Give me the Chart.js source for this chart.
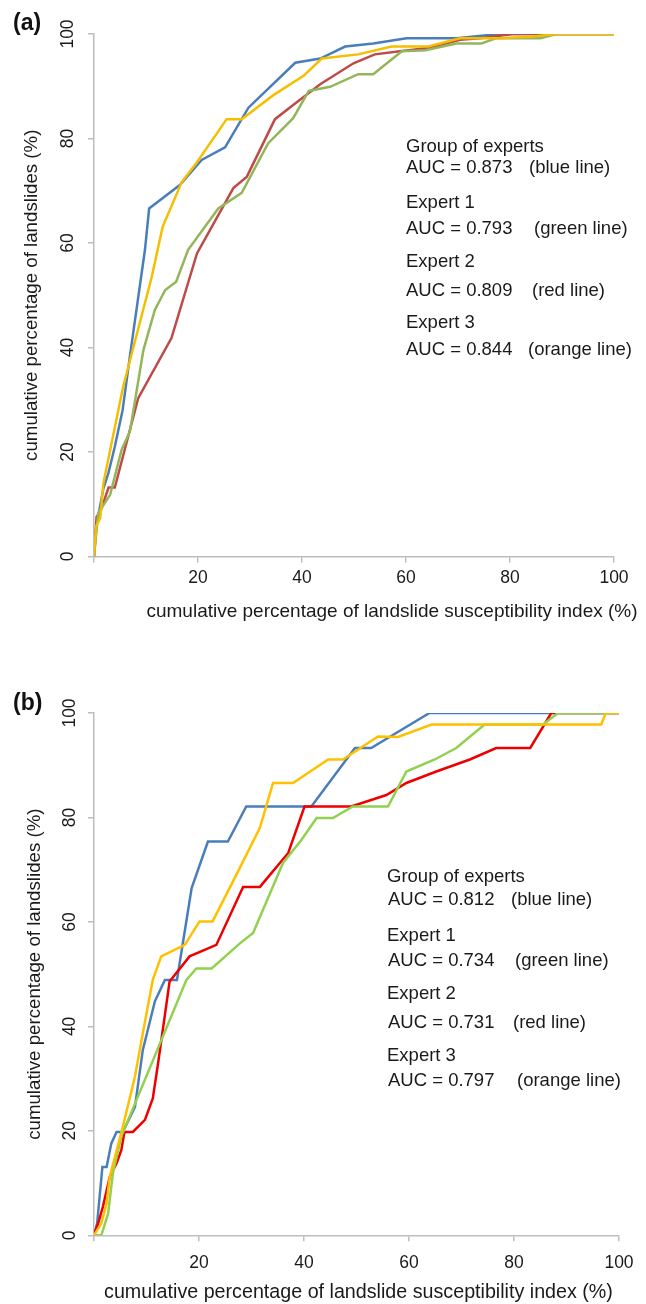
<!DOCTYPE html>
<html>
<head>
<meta charset="utf-8">
<script src="https://cdn.jsdelivr.net/npm/chart.js@4.4.1/dist/chart.umd.min.js"></script>
<style>
  html, body { margin: 0; padding: 0; background: #fff; }
  body { width: 646px; height: 1304px; position: relative; overflow: hidden; font-family: "Liberation Sans", Arial, sans-serif; }
  canvas { position: absolute; left: 0; }
  #rocA { top: 0; }
  #rocB { top: 650px; }
  .tag { position: absolute; left: 13px; font-weight: bold; font-size: 23px; color: #111; line-height: 28px; }
</style>
</head>
<body>
<canvas id="rocA" width="646" height="650"></canvas>
<canvas id="rocB" width="646" height="654"></canvas>
<div class="tag" style="top:8px">(a)</div>
<div class="tag" style="top:688px">(b)</div>
<script>
// tick labels (both axes, both panels)
const tickValues = [0, 20, 40, 60, 80, 100];
const xAxisTitle = 'cumulative percentage of landslide susceptibility index (%)';
const yAxisTitle = 'cumulative percentage of landslides (%)';

const seriesNames = ['Group of experts', 'Expert 1', 'Expert 2', 'Expert 3'];
const lineNames = ['(blue line)', '(green line)', '(red line)', '(orange line)'];
const aucA = ['0.873', '0.793', '0.809', '0.844'];
const aucB = ['0.812', '0.734', '0.731', '0.797'];

// ---- panel (a) ----
const aGroupX = [0, 0.5, 1.8, 2.75, 4, 5.5, 6.9, 9.8, 10.6, 16.5, 20.7, 25.2, 29.7, 38.7, 43.5, 48.3, 53.7, 60.1, 69.7, 78, 100];
const aGroupY = [0, 6, 13, 15.9, 21, 28, 38.3, 58.7, 66.6, 71.1, 75.9, 78.3, 85.9, 94.5, 95.3, 97.6, 98.2, 99.2, 99.2, 100, 100];
const aExp1X = [0, 0.2, 0.8, 3.1, 5.3, 6.9, 9.5, 11.7, 13.7, 15.8, 18.1, 23.9, 28.4, 33.5, 38.3, 41.3, 45.4, 50.8, 53.7, 59.2, 63.7, 69.7, 74.5, 77.4, 85.8, 89, 100];
const aExp1Y = [0, 2.2, 8.3, 11.8, 20.4, 23.9, 39.5, 47.2, 51, 52.6, 58.7, 66.6, 69.6, 79.1, 83.9, 89.1, 89.9, 92.3, 92.3, 96.7, 96.9, 98.2, 98.2, 99.2, 99.2, 100, 100];
const aExp2X = [0, 0.5, 1.2, 2.8, 4, 8.5, 14.9, 19.8, 26.8, 29.4, 34.8, 38.3, 43.5, 49.9, 54, 58.8, 64.3, 70.4, 74.2, 80.6, 100];
const aExp2Y = [0, 7.6, 8.5, 13.2, 13.2, 30.3, 41.8, 58, 70.5, 72.7, 83.7, 86.4, 90.4, 94.4, 96.1, 96.7, 97.3, 98.9, 99.2, 100, 100];
const aExp3X = [0, 0.4, 1.2, 1.8, 5.6, 11.1, 13.2, 16.9, 19.7, 23.3, 25.5, 28.4, 34.5, 40.3, 43.8, 50.8, 57.2, 64.3, 70.4, 78, 84.4, 89, 100];
const aExp3Y = [0, 5.7, 7.4, 14, 32.5, 53.5, 63.1, 71.7, 75.3, 80.5, 83.7, 83.7, 88.3, 92, 95.3, 96.1, 97.6, 97.6, 99.2, 99.2, 99.5, 100, 100];

// ---- panel (b) ----
const bGroupX = [0, 0.6, 1.6, 2.4, 3.3, 4.3, 5.5, 7.8, 9.3, 11.6, 13.5, 15.8, 18.6, 21.7, 25.5, 29, 41.4, 49.7, 52.8, 63.9, 100];
const bGroupY = [0, 2.3, 13.1, 13.1, 17.6, 19.8, 19.8, 24.6, 35.5, 44.8, 48.9, 48.9, 66.5, 75.4, 75.4, 82.1, 82.1, 93.3, 93.3, 100, 100];
const bExp1X = [0, 1.4, 2.7, 3.6, 5.2, 17.6, 19.5, 22.4, 27.8, 30.3, 36, 39.5, 42.4, 45.5, 49.3, 56, 59.5, 64.9, 69, 74.4, 85.5, 88.4, 100];
const bExp1Y = [0, 0, 4.2, 11.9, 18.9, 48.9, 51.1, 51.1, 55.9, 57.9, 71.3, 75.7, 79.9, 79.9, 82.1, 82.1, 88.8, 91.1, 93.3, 97.8, 97.8, 100, 100];
const bExp2X = [0, 0.8, 1.7, 3, 4.3, 5.2, 5.8, 7.4, 9.7, 11.2, 12.2, 14.4, 18.2, 23.3, 28.4, 31.6, 37, 40.1, 49, 55.7, 59.5, 65.2, 71.6, 76.6, 83.1, 87.1, 100];
const bExp2Y = [0, 2.3, 5.5, 11.2, 13.8, 16.3, 19.8, 19.8, 22.1, 26.2, 32.9, 48.6, 53.4, 55.6, 66.7, 66.7, 73.2, 82.1, 82.1, 84.3, 86.6, 88.8, 91.1, 93.3, 93.3, 100, 100];
const bExp3X = [0, 1.4, 2.4, 3, 5.5, 7.8, 9.3, 11.2, 12.8, 17.3, 20.1, 22.6, 27.1, 31.6, 34.1, 37.9, 44.6, 47.4, 54.1, 57.9, 64.3, 96.6, 97.5, 100];
const bExp3Y = [0, 2.3, 6.1, 11.2, 20.8, 30.4, 38.7, 48.9, 53.4, 55.6, 60.1, 60.1, 69, 78, 86.6, 86.6, 91.1, 91.1, 95.5, 95.4, 97.8, 97.8, 100, 100];

const toPoints = (xs, ys) => xs.map((x, i) => ({ x: x, y: ys[i] }));
const FONT = '"Liberation Sans", Arial, sans-serif';
const INK = '#1a1a1a';

// annotation block + x axis title
const panelText = {
    id: 'panelText',
    afterDraw(chart, args, opts) {
        const ctx = chart.ctx;
        const area = chart.chartArea;
        ctx.save();
        ctx.fillStyle = INK;
        ctx.font = '18.5px ' + FONT;
        ctx.textBaseline = 'middle';
        ctx.textAlign = 'left';
        seriesNames.forEach((name, i) => {
            ctx.fillText(name, opts.nameX, opts.nameY[i]);
            ctx.fillText('AUC = ' + opts.auc[i], opts.aucX, opts.aucY[i]);
            ctx.fillText(lineNames[i], opts.lineX[i], opts.aucY[i]);
        });
        ctx.font = opts.titleSize + 'px ' + FONT;
        ctx.textAlign = 'center';
        ctx.fillText(xAxisTitle, (area.left + area.right) / 2 + opts.titleDx, opts.titleY);
        ctx.restore();
    }
};

function makeRoc(id, series, g, notes) {
    const datasets = series.map(s => ({
        label: s.label,
        data: s.data,
        borderColor: s.color,
        borderWidth: 2.5,
        pointRadius: 0,
        tension: 0,
        fill: false,
        order: s.order
    }));
    const axisLine = { display: true, color: '#BEBEBE', width: 1.5 };
    const tickMarks = { display: true, drawOnChartArea: false, drawTicks: true, tickLength: 6, color: '#BEBEBE', lineWidth: 1.5 };
    const setTicks = (scale) => { scale.ticks = tickValues.map(v => ({ value: v })); };

    return new Chart(document.getElementById(id), {
        type: 'line',
        data: { datasets },
        options: {
            responsive: false,
            animation: false,
            layout: { padding: { top: g.padTop, right: g.padRight, left: 0, bottom: 0 } },
            scales: {
                x: {
                    type: 'linear',
                    min: 0,
                    max: 100,
                    afterBuildTicks: setTicks,
                    afterFit: (scale) => { scale.height = g.xHeight; },
                    border: axisLine,
                    grid: tickMarks,
                    ticks: {
                        padding: g.xTickPad,
                        color: INK,
                        font: { family: FONT, size: 17.5 },
                        callback: (v) => v === 0 ? '' : v
                    }
                },
                y: {
                    type: 'linear',
                    min: 0,
                    max: 100,
                    afterBuildTicks: setTicks,
                    afterFit: (scale) => { scale.width = g.yWidth; },
                    border: axisLine,
                    grid: tickMarks,
                    ticks: {
                        padding: g.yTickPad,
                        minRotation: 90,
                        maxRotation: 90,
                        crossAlign: 'center',
                        color: INK,
                        font: { family: FONT, size: 17.5 }
                    },
                    title: {
                        display: true,
                        text: yAxisTitle,
                        color: INK,
                        font: { family: FONT, size: 18.7 },
                        padding: { top: g.yTitlePad, bottom: 0 }
                    }
                }
            },
            plugins: {
                legend: { display: false },
                tooltip: { enabled: false },
                panelText: notes
            }
        },
        plugins: [panelText]
    });
}

makeRoc('rocA', [
    { label: 'Group of experts', data: toPoints(aGroupX, aGroupY), color: '#4A7EBB', order: 3 },
    { label: 'Expert 1', data: toPoints(aExp1X, aExp1Y), color: '#93B65A', order: 1 },
    { label: 'Expert 2', data: toPoints(aExp2X, aExp2Y), color: '#BE4B48', order: 2 },
    { label: 'Expert 3', data: toPoints(aExp3X, aExp3Y), color: '#F6BE00', order: 0 }
], { padTop: 34, padRight: 32, yWidth: 94, xHeight: 93.5, xTickPad: 5, yTickPad: 5.5, yTitlePad: 21 }, {
    auc: aucA,
    nameX: 406, nameY: [147, 203, 262, 323],
    aucX: 406, aucY: [168, 229, 291, 350],
    lineX: [529, 534, 532, 528],
    titleDx: 38, titleY: 612, titleSize: 19
});

makeRoc('rocB', [
    { label: 'Group of experts', data: toPoints(bGroupX, bGroupY), color: '#4A7EBB', order: 3 },
    { label: 'Expert 1', data: toPoints(bExp1X, bExp1Y), color: '#92D050', order: 1 },
    { label: 'Expert 2', data: toPoints(bExp2X, bExp2Y), color: '#EE0000', order: 2 },
    { label: 'Expert 3', data: toPoints(bExp3X, bExp3Y), color: '#FFC000', order: 0 }
], { padTop: 63, padRight: 27, yWidth: 94, xHeight: 68.7, xTickPad: 11, yTickPad: 2.8, yTitlePad: 24 }, {
    auc: aucB,
    nameX: 387, nameY: [227, 286, 344, 406],
    aucX: 388, aucY: [250, 311, 373, 431],
    lineX: [511, 515, 513, 517],
    titleDx: 2, titleY: 643, titleSize: 19.7
});
</script>
</body>
</html>
